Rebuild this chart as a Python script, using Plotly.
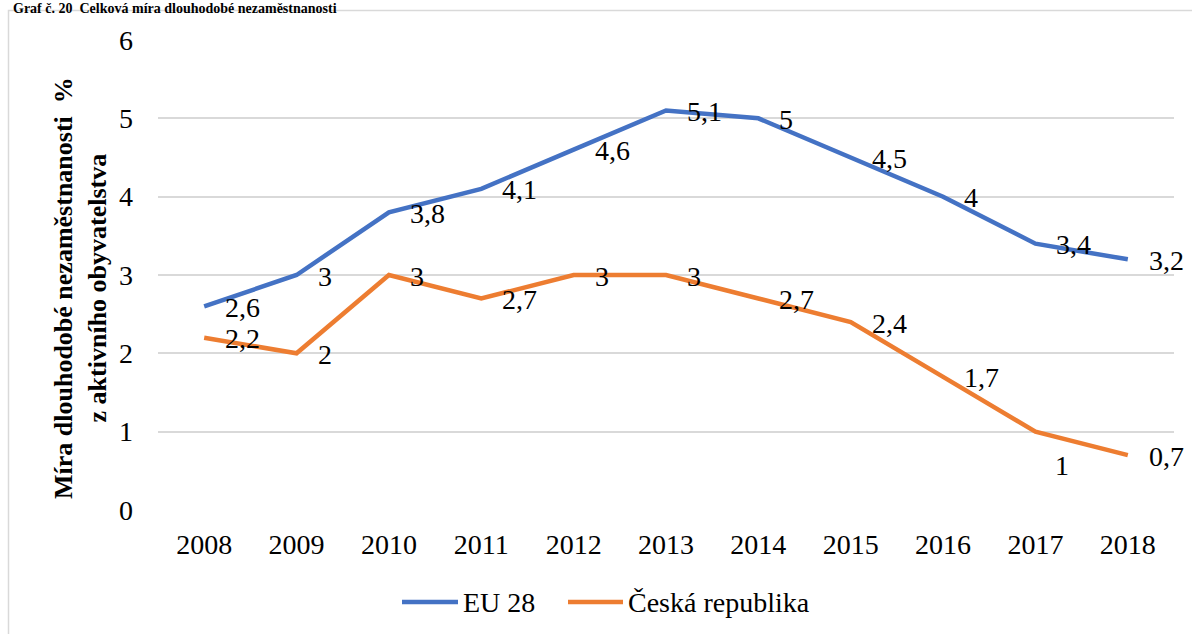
import plotly.graph_objects as go

# Data
years = [2008, 2009, 2010, 2011, 2012, 2013, 2014, 2015, 2016, 2017, 2018]
eu28 = [2.6, 3.0, 3.8, 4.1, 4.6, 5.1, 5.0, 4.5, 4.0, 3.4, 3.2]
cz = [2.2, 2.0, 3.0, 2.7, 3.0, 3.0, 2.7, 2.4, 1.7, 1.0, 0.7]
series_names = ["EU 28", "Česká republika"]
y_ticks = [0, 1, 2, 3, 4, 5, 6]

BLUE = "#4472C4"
ORANGE = "#ED7D31"
GRID = "#D9D9D9"
FONT = "Liberation Serif"

W, H = 1192, 634
L, R, T, B = 158, 18, 40, 124
PW, PH = W - L - R, H - T - B


def px_x(p):
    return (p - L) / PW


def px_y(p):
    return (H - B - p) / PH


def fmt(v):
    return f"{v:g}".replace(".", ",")


fig = go.Figure()
for vals, color, name in [(eu28, BLUE, series_names[0]), (cz, ORANGE, series_names[1])]:
    fig.add_trace(go.Scatter(
        x=years, y=vals, mode="lines", name=name,
        line=dict(color=color, width=4.5), showlegend=False,
    ))

annotations = []
# data labels, placed to the right of each point
for vals, key in [(eu28, "eu"), (cz, "cz")]:
    for yr, v in zip(years, vals):
        a = dict(x=yr, y=v, xref="x", yref="y", text=fmt(v), showarrow=False,
                 font=dict(family=FONT, size=28, color="#000000"),
                 xanchor="left", xshift=19, yshift=-1)
        if key == "cz" and yr == 2017:
            a.update(xanchor="center", xshift=27, yshift=-34)
        annotations.append(a)

# y-axis title
annotations.append(dict(
    x=px_x(80), y=px_y(288), xref="paper", yref="paper",
    text="<b>Míra dlouhodobé nezaměstnanosti  %<br>z aktivního obyvatelstva</b>",
    textangle=-90, showarrow=False, xanchor="center", yanchor="middle",
    font=dict(family=FONT, size=26, color="#000000"),
))

# chart heading along the top edge
annotations.append(dict(
    x=px_x(12), y=px_y(0), xref="paper", yref="paper",
    text="<b>Graf č. 20  Celková míra dlouhodobé nezaměstnanosti</b>",
    showarrow=False, xanchor="left", yanchor="top", borderpad=0,
    font=dict(family=FONT, size=14, color="#000000"),
))

# frame and legend entries
shapes = [dict(type="rect", xref="paper", yref="paper",
               x0=px_x(8.5), x1=px_x(1300), y0=px_y(10.5), y1=px_y(800),
               line=dict(color=GRID, width=1.5), fillcolor="rgba(0,0,0,0)", layer="below")]
legend_items = [(BLUE, series_names[0], 402, 458), (ORANGE, series_names[1], 568, 623)]
for color, name, x0, x1 in legend_items:
    shapes.append(dict(type="line", xref="paper", yref="paper",
                       x0=px_x(x0), x1=px_x(x1), y0=px_y(602), y1=px_y(602),
                       line=dict(color=color, width=4.5)))
    annotations.append(dict(x=px_x(x1 + 3), y=px_y(602), xref="paper", yref="paper",
                            text=name, showarrow=False, xanchor="left", yanchor="middle",
                            font=dict(family=FONT, size=28, color="#000000")))

fig.update_layout(
    width=W, height=H,
    margin=dict(l=L, r=R, t=T, b=B, pad=0),
    paper_bgcolor="white", plot_bgcolor="white",
    annotations=annotations, shapes=shapes,
    showlegend=False,
    font=dict(family=FONT, size=28, color="#000000"),
)
fig.update_xaxes(
    range=[2007.5, 2018.5], tickvals=years, ticktext=[str(y) for y in years],
    showgrid=False, zeroline=False, showline=False, ticks="",
    ticklabelstandoff=15, tickfont=dict(family=FONT, size=28),
)
fig.update_yaxes(
    range=[0, 6], tickvals=y_ticks, showgrid=True, gridcolor=GRID, gridwidth=1.5,
    zeroline=False, showline=False, ticks="", ticklabelstandoff=24,
    tickfont=dict(family=FONT, size=28),
)

fig.write_html("out.html")
